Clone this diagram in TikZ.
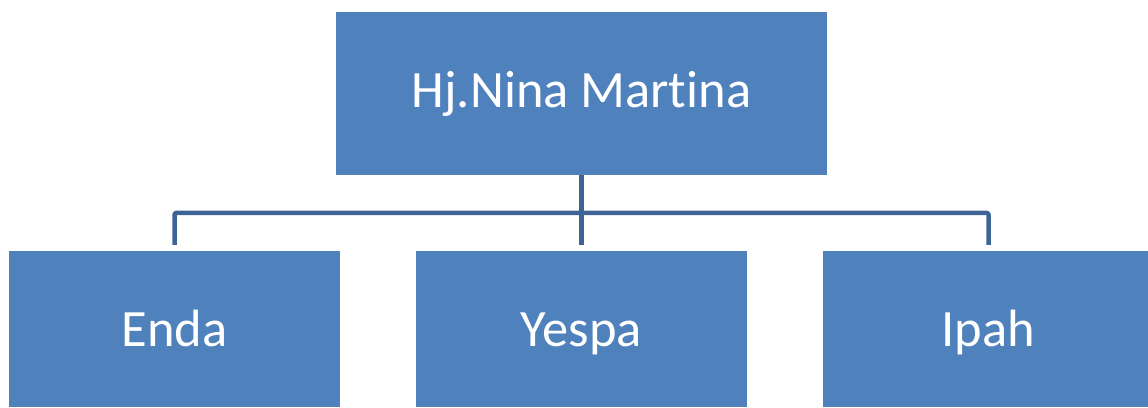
\documentclass[tikz,border=0pt]{standalone}
\usepackage{fontspec}
\setmainfont{Carlito}[Ligatures={NoCommon,NoRequired,NoContextual}]
\definecolor{boxfill}{HTML}{4F81BD}
\definecolor{connline}{HTML}{3E6496}
\begin{document}
\begin{tikzpicture}[x=1pt,y=-1pt,
  orgbox/.style={rectangle, fill=boxfill, draw=none, inner sep=0pt, text=white,
    font=\fontsize{52.5}{60}\selectfont},
  childbox/.style={orgbox, minimum width=331pt, minimum height=156pt,
    text height=34pt, text depth=0pt},
  conn/.style={draw=connline, line width=4.5pt, line join=round, rounded corners=1.5pt}]
\useasboundingbox (0,0) rectangle (1148,407);
\clip (0,0) rectangle (1148,407);
\node[orgbox, minimum width=491pt, minimum height=163pt] (top) at (581.5,93.5) {Hj.Nina Martina};
\node[childbox] (enda) at (174.5,329) {Enda};
\node[childbox] (yespa) at (581.5,329) {Yespa};
\node[childbox] (ipah) at (988.5,329) {Ipah};
\draw[conn] (top.south) -- ([yshift=6pt]yespa.north);
\draw[conn] ([yshift=6pt]enda.north) |- ([yshift=38pt]ipah.north) -- ([yshift=6pt]ipah.north);
\end{tikzpicture}
\end{document}
